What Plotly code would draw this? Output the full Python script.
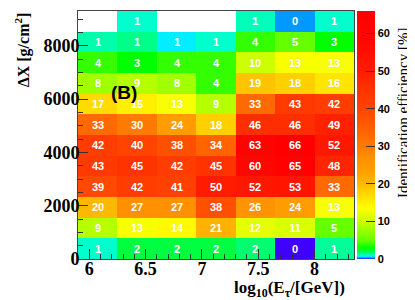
import numpy as np
import plotly.graph_objects as go

# bin edges
x_edges = [5.9, 6.25, 6.6, 6.95, 7.3, 7.65, 8.0, 8.35]
y_edges = [0, 775, 1550, 2325, 3100, 3875, 4650, 5425, 6200, 6975, 7750, 8525, 9300]

# identification efficiency [%], rows from bottom (ΔX low) to top
N = None
eff = [
    [1.0, 2, 2, 2, 1.6, 0.0, 1.3],
    [9, 13, 14, 21, 12, 11, 5],
    [20, 27, 27, 38, 26, 24, 13],
    [39, 42, 41, 50, 52, 53, 33],
    [43, 45, 42, 45, 60, 65, 48],
    [42, 40, 38, 34, 63, 66, 52],
    [33, 30, 24, 18, 46, 46, 49],
    [17, 15, 13, 9, 33, 43, 42],
    [8, 9, 8, 4, 19, 18, 16],
    [4, 3, 4, 4, 10, 13, 13],
    [1.2, 1.4, 0.7, 1.0, 4, 5, 3],
    [N, 1.0, N, N, 1.1, 0.3, 1.0],
]

x_ticks = [6, 6.5, 7, 7.5, 8]
x_ticktext = ["6", "6.5", "7", "7.5", "8"]

x_centers = [(a + b) / 2 for a, b in zip(x_edges[:-1], x_edges[1:])]
y_centers = [(a + b) / 2 for a, b in zip(y_edges[:-1], y_edges[1:])]

z = np.array([[np.nan if v is None else v for v in row] for row in eff], dtype=float)
text = [["" if v is None else str(int(round(v))) for v in row] for row in eff]

zmax = 66
stops = [
    (0, "#4000ff"), (0.3, "#0099ff"), (0.7, "#00eeff"), (1.0, "#00ffcc"),
    (1.4, "#00ff88"), (2.0, "#00ff40"), (3.0, "#00ff00"), (4.0, "#33ff00"),
    (5.0, "#66ff00"), (8.5, "#aaff00"), (10, "#ccff00"), (12, "#e6ff00"),
    (13.5, "#ffff00"), (16, "#ffe600"), (18, "#ffd000"), (20, "#ffb800"),
    (24, "#ff9c00"), (27, "#ff9000"), (30, "#ff7a00"), (34, "#ff6400"),
    (40, "#ff4400"), (45, "#ff3300"), (50, "#ff1c00"), (58, "#ff0800"),
    (66, "#ff0000"),
]
colorscale = [[v / zmax, c] for v, c in stops]

serif = "Liberation Serif"
sans = "Liberation Sans"

fig = go.Figure(go.Heatmap(
    x=x_centers, y=y_centers, z=z,
    text=text, texttemplate="%{text}",
    textfont=dict(family=sans, size=11, color="white", weight="bold"),
    colorscale=colorscale, zmin=0, zmax=zmax,
    xgap=0, ygap=0, hoverongaps=False,
    colorbar=dict(
        x=1.011, xanchor="left", xref="paper",
        y=0.5, yanchor="middle", len=1.0, lenmode="fraction",
        thickness=18, thicknessmode="pixels",
        outlinewidth=0, xpad=0, ypad=0,
        tickmode="linear", tick0=0, dtick=10,
        ticks="inside", ticklen=9, tickcolor="#333", tickwidth=1,
        tickfont=dict(family=sans, size=11, color="black", weight="bold"),
    ),
))

# the page body has an 8px default margin, so the figure is sized to fit
fig.update_layout(
    width=407, height=292,
    margin=dict(l=70, r=61, t=3, b=41, autoexpand=False),
    paper_bgcolor="white", plot_bgcolor="white",
    showlegend=False,
    xaxis=dict(
        range=[x_edges[0], x_edges[-1]],
        tickmode="array", tickvals=x_ticks, ticktext=x_ticktext,
        ticks="inside", ticklen=10, tickcolor="#333", tickwidth=1,
        minor=dict(dtick=0.1, tick0=6, ticks="inside", ticklen=5, tickcolor="#333"),
        tickfont=dict(family=serif, size=18, color="black", weight="bold"),
        ticklabelstandoff=-7,
        showgrid=False, zeroline=False, automargin=False,
        showline=True, linecolor="#444", linewidth=1, mirror=True,
    ),
    yaxis=dict(
        range=[y_edges[0], y_edges[-1]],
        tickmode="linear", tick0=0, dtick=2000,
        ticks="inside", ticklen=10, tickcolor="#333", tickwidth=1,
        minor=dict(dtick=500, tick0=0, ticks="inside", ticklen=5, tickcolor="#333"),
        tickfont=dict(family=serif, size=18, color="black", weight="bold"),
        ticklabelstandoff=-6,
        showgrid=False, zeroline=False, automargin=False,
        showline=True, linecolor="#444", linewidth=1, mirror=True,
    ),
    annotations=[
        dict(text="ΔX [g/cm<sup>2</sup>]", xref="paper", yref="paper",
             x=-0.2, y=1.004, xanchor="center", yanchor="top", textangle=-90,
             showarrow=False,
             font=dict(family=serif, size=16, color="black", weight="bold")),
        dict(text="log<sub>10</sub>(E<sub>τ</sub>/[GeV])", xref="paper", yref="paper",
             x=0.975, y=-0.068, xanchor="right", yanchor="top",
             showarrow=False,
             font=dict(family=serif, size=17, color="black", weight="bold")),
        dict(text="Identification efficiency [%]", xref="paper", yref="paper",
             x=1.178, y=0.589, xanchor="center", yanchor="middle", textangle=-90,
             showarrow=False,
             font=dict(family=serif, size=15, color="black")),
        dict(text="(B)", xref="paper", yref="paper",
             x=0.167, y=0.673, xanchor="center", yanchor="middle",
             showarrow=False,
             font=dict(family=sans, size=19, color="black", weight="bold")),
    ],
)

fig.write_html("out.html")
